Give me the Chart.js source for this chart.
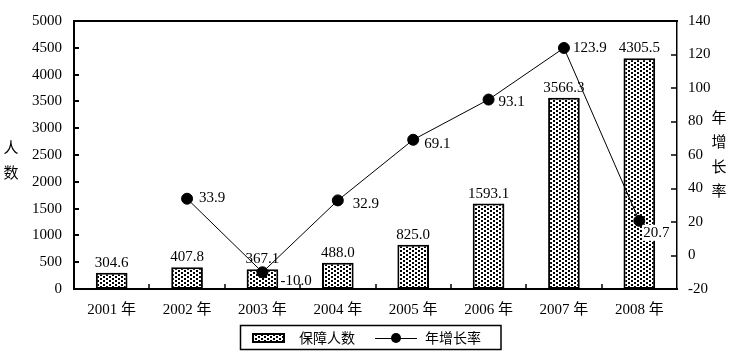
<!DOCTYPE html>
<html lang="zh">
<head>
  <meta charset="UTF-8">
  <title>保障人数与年增长率</title>
  <script src="https://cdn.jsdelivr.net/npm/chart.js"></script>
  <style>
    html, body { margin: 0; padding: 0; background: #fff; }
    #wrap { width: 743px; height: 355px; }
  </style>
</head>
<body>
  <div id="wrap"><canvas id="chart" width="743" height="355"></canvas></div>

  <script>
    const years = ['2001 年', '2002 年', '2003 年', '2004 年', '2005 年', '2006 年', '2007 年', '2008 年'];
    const insured = [304.6, 407.8, 367.1, 488.0, 825.0, 1593.1, 3566.3, 4305.5];
    const growth = [null, 33.9, -10.0, 32.9, 69.1, 93.1, 123.9, 20.7];
    const seriesNames = ['保障人数', '年增长率'];
    const leftTitle = ['人', '数'];
    const rightTitle = ['年', '增', '长', '率'];

    const FONT = "'Liberation Serif', 'Noto Sans CJK SC', serif";
    const CJK = "'Noto Sans CJK SC', 'Liberation Serif', sans-serif";

    const ctx = document.getElementById('chart').getContext('2d');

    // dotted fill like the original print
    function dotTile() {
      const c = document.createElement('canvas');
      c.width = 6; c.height = 4;
      const g = c.getContext('2d');
      g.fillStyle = '#fff';
      g.fillRect(0, 0, 6, 4);
      g.fillStyle = '#000';
      g.fillRect(1, 0, 2, 2);
      g.fillRect(4, 2, 2, 2);
      return c;
    }
    const dots = ctx.createPattern(dotTile(), 'repeat');

    // legend symbols
    function barSymbol() {
      const c = document.createElement('canvas');
      c.width = 53; c.height = 12;
      const g = c.getContext('2d');
      g.fillStyle = g.createPattern(dotTile(), 'repeat');
      g.fillRect(14, 2, 31, 8);
      g.strokeStyle = '#000';
      g.lineWidth = 2;
      g.strokeRect(14, 2, 31, 8);
      return c;
    }
    function lineSymbol() {
      const c = document.createElement('canvas');
      c.width = 53; c.height = 12;
      const g = c.getContext('2d');
      g.strokeStyle = '#000';
      g.lineWidth = 1;
      g.beginPath();
      g.moveTo(10, 6.5);
      g.lineTo(52, 6.5);
      g.stroke();
      g.fillStyle = '#000';
      g.beginPath();
      g.arc(31, 6, 5, 0, Math.PI * 2);
      g.fill();
      return c;
    }

    const growthLabelOffset = [null, [12, -1], [18, 9], [15, 4], [11, 4], [10, 3], [9, 0], [4, 12]];

    const decorPlugin = {
      id: 'decor',
      beforeDatasetsDraw(chart) {
        const c = chart.ctx;
        const meta = chart.getDatasetMeta(0);
        c.save();
        c.font = '15px ' + FONT;
        c.fillStyle = '#000';
        c.textAlign = 'center';
        c.textBaseline = 'middle';
        meta.data.forEach((bar, i) => {
          c.fillText(insured[i].toFixed(1), bar.x, bar.y - 10);
        });
        c.restore();
      },
      afterDatasetsDraw(chart) {
        const c = chart.ctx;
        const meta = chart.getDatasetMeta(1);
        c.save();
        c.font = '15px ' + FONT;
        c.textAlign = 'left';
        c.textBaseline = 'middle';
        meta.data.forEach((pt, i) => {
          if (growth[i] === null) return;
          const off = growthLabelOffset[i];
          const txt = growth[i].toFixed(1);
          const x = pt.x + off[0], y = pt.y + off[1];
          if (i === 7) {
            const w = c.measureText(txt).width;
            c.fillStyle = '#fff';
            c.fillRect(x - 1, y - 8, w + 2, 16);
          }
          c.fillStyle = '#000';
          c.fillText(txt, x, y);
        });
        c.restore();
      },
      afterDraw(chart) {
        const c = chart.ctx;
        const a = chart.chartArea;
        const x = chart.scales.x, yl = chart.scales.y, yr = chart.scales.y1;
        c.save();
        c.strokeStyle = '#000';
        // top frame line
        c.lineWidth = 2;
        c.beginPath();
        c.moveTo(a.left - 1, a.top);
        c.lineTo(a.right + 1, a.top);
        c.stroke();
        // inward tick marks
        c.lineWidth = 2;
        yl.ticks.forEach(t => {
          const py = Math.round(yl.getPixelForValue(t.value));
          c.beginPath(); c.moveTo(a.left, py); c.lineTo(a.left + 5, py); c.stroke();
        });
        c.lineWidth = 1.5;
        yr.ticks.forEach(t => {
          const py = Math.round(yr.getPixelForValue(t.value));
          c.beginPath(); c.moveTo(a.right - 6, py); c.lineTo(a.right, py); c.stroke();
        });
        c.lineWidth = 1.5;
        for (let i = 1; i < years.length; i++) {
          const px = Math.round((x.getPixelForValue(i - 1) + x.getPixelForValue(i)) / 2);
          c.beginPath(); c.moveTo(px, a.bottom); c.lineTo(px, a.bottom - 5); c.stroke();
        }
        // axis titles written upright, one character per line
        c.font = '15px ' + CJK;
        c.fillStyle = '#000';
        c.textAlign = 'center';
        c.textBaseline = 'middle';
        leftTitle.forEach((ch, i) => c.fillText(ch, 11, 147 + i * 25));
        rightTitle.forEach((ch, i) => c.fillText(ch, 719, 117 + i * 24.5));
        // legend frame
        const boxes = chart.legend.legendHitBoxes;
        if (boxes && boxes.length) {
          const first = boxes[0], last = boxes[boxes.length - 1];
          c.lineWidth = 1.5;
          const l = Math.round(first.left) + 1.5;
          c.strokeRect(l, 325.5, Math.round(last.left + last.width) + 20 - l, 24);
        }
        c.restore();
      }
    };

    new Chart(ctx, {
      data: {
        labels: years,
        datasets: [
          {
            type: 'bar',
            label: seriesNames[0],
            data: insured,
            yAxisID: 'y',
            backgroundColor: dots,
            borderColor: '#000',
            borderWidth: 2,
            borderSkipped: false,
            categoryPercentage: 1,
            barPercentage: 0.42,
            order: 2
          },
          {
            type: 'line',
            label: seriesNames[1],
            data: growth,
            yAxisID: 'y1',
            borderColor: '#000',
            borderWidth: 1,
            backgroundColor: '#000',
            pointBackgroundColor: '#000',
            pointBorderColor: '#000',
            pointRadius: 5.5,
            pointHoverRadius: 5.5,
            tension: 0,
            spanGaps: false,
            order: 1
          }
        ]
      },
      options: {
        responsive: false,
        animation: false,
        events: [],
        layout: { padding: { top: 12, left: 0, right: 23, bottom: 0 } },
        plugins: {
          tooltip: { enabled: false },
          legend: {
            position: 'bottom',
            labels: {
              usePointStyle: true,
              pointStyleWidth: 53,
              padding: 10,
              font: { family: CJK, size: 14 },
              color: '#000',
              generateLabels() {
                return [
                  { text: seriesNames[0], pointStyle: barSymbol(), datasetIndex: 0, hidden: false, lineWidth: 0, fontColor: '#000' },
                  { text: seriesNames[1], pointStyle: lineSymbol(), datasetIndex: 1, hidden: false, lineWidth: 0, fontColor: '#000' }
                ];
              }
            }
          }
        },
        scales: {
          x: {
            offset: true,
            grid: { display: false, drawTicks: false },
            border: { display: true, color: '#000', width: 2 },
            ticks: { color: '#000', padding: 12, font: { family: FONT, size: 15 }, maxRotation: 0 },
            afterFit(s) { s.height = 32; }
          },
          y: {
            position: 'left',
            min: 0,
            max: 5000,
            grid: { display: false, drawTicks: false },
            border: { display: true, color: '#000', width: 2 },
            ticks: { stepSize: 500, color: '#000', padding: 12, font: { family: FONT, size: 15 }, callback: v => String(v) },
            afterFit(s) { s.width = 74; }
          },
          y1: {
            position: 'right',
            min: -20,
            max: 140,
            grid: { display: false, drawTicks: false },
            border: { display: true, color: '#000', width: 1.5 },
            ticks: { stepSize: 20, color: '#000', padding: 11, font: { family: FONT, size: 15 }, callback: v => String(v) },
            afterFit(s) { s.width = 43; }
          }
        }
      },
      plugins: [decorPlugin]
    });
  </script>
</body>
</html>
